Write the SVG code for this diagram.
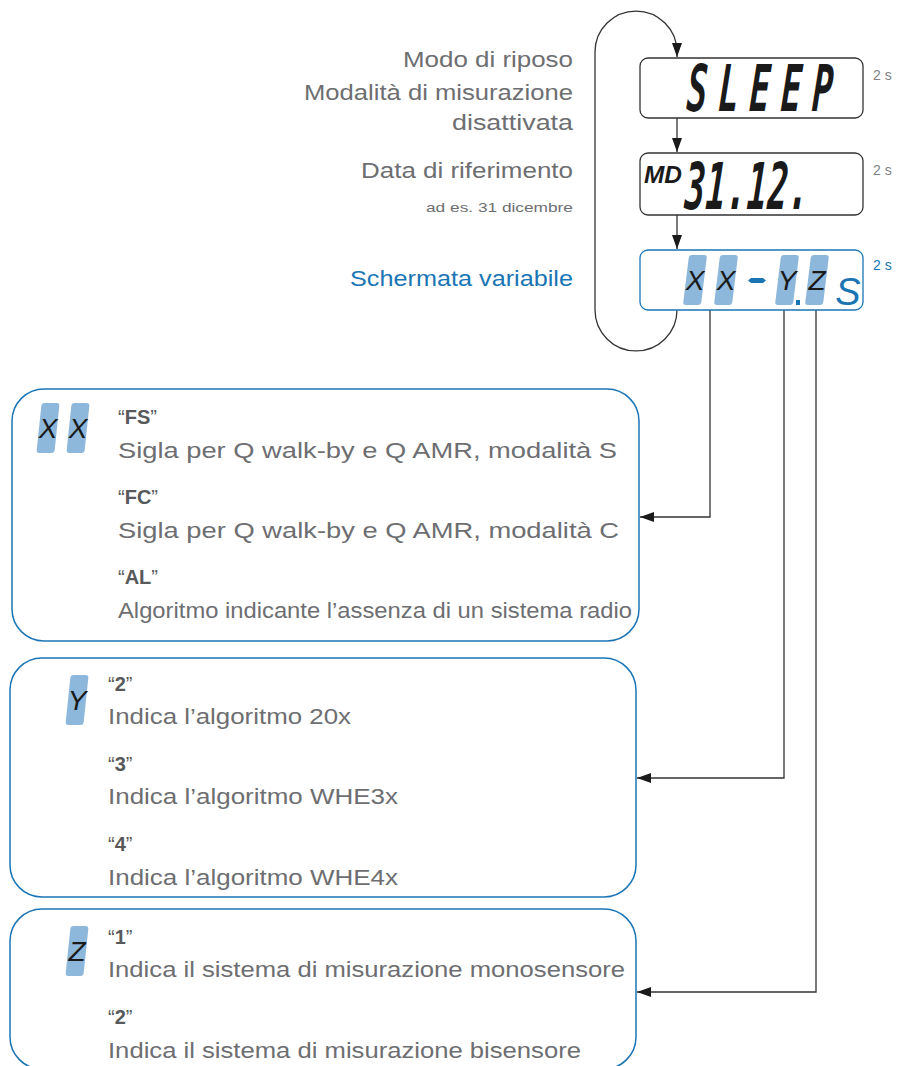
<svg xmlns="http://www.w3.org/2000/svg" width="899" height="1066" viewBox="0 0 899 1066">
<style>
.t{font-family:"Liberation Sans",Arial,sans-serif;font-size:22px;fill:#6d6e71}
.r{text-anchor:end}
.q{font-family:"Liberation Sans",Arial,sans-serif;font-size:20px;fill:#58595b}
.q tspan.b{font-weight:bold}
.s2{font-family:"Liberation Sans",Arial,sans-serif;font-size:14px;fill:#808285}
.lcd{fill:#fff;stroke:#333;stroke-width:1.3}
.lcdb{fill:#fff;stroke:#1a75b5;stroke-width:1.3}
.seg{fill:#8db8dc}
.sl{font-family:"Liberation Sans",Arial,sans-serif;font-style:italic;font-size:28px;fill:#1a1a1a;text-anchor:middle}
.box{fill:#fff;stroke:#1a75b5;stroke-width:1.5}
.con{fill:none;stroke:#333;stroke-width:1.3}
.lcdt{font-family:"DejaVu Sans Mono",monospace;font-style:italic;font-weight:bold;fill:#1a1a1a}
</style>
<defs>
<marker id="ah" markerUnits="userSpaceOnUse" markerWidth="15" markerHeight="11" refX="14" refY="5" orient="auto">
<path d="M0,0 L14,5 L0,10 z" fill="#1a1a1a"/>
</marker>
<rect id="sg" x="-9" y="-25" width="18" height="50" rx="3" class="seg"/>
</defs>

<g id="labels">
<text class="t r" x="573" y="67" textLength="170" lengthAdjust="spacingAndGlyphs">Modo di riposo</text>
<text class="t r" x="573" y="100" textLength="269" lengthAdjust="spacingAndGlyphs">Modalità di misurazione</text>
<text class="t r" x="573" y="130" textLength="121" lengthAdjust="spacingAndGlyphs">disattivata</text>
<text class="t r" x="573" y="178" textLength="212" lengthAdjust="spacingAndGlyphs">Data di riferimento</text>
<text class="t r" x="573" y="212" style="font-size:13px" textLength="147" lengthAdjust="spacingAndGlyphs">ad es. 31 dicembre</text>
<text class="t r" x="573" y="286" style="fill:#1a75b5" textLength="223" lengthAdjust="spacingAndGlyphs">Schermata variabile</text>
</g>

<g id="connectors">
<path class="con" d="M677,310 A41,41 0 0 1 595,310 L595,52 A41,41 0 0 1 677,52 L677,57" marker-end="url(#ah)"/>
<path class="con" d="M677,118 L677,152" marker-end="url(#ah)"/>
<path class="con" d="M677,215 L677,249" marker-end="url(#ah)"/>
<path class="con" d="M710,310 L710,517 L640,517" marker-end="url(#ah)"/>
<path class="con" d="M784,310 L784,778 L637,778" marker-end="url(#ah)"/>
<path class="con" d="M816,310 L816,992 L637,992" marker-end="url(#ah)"/>
</g>

<g id="sleep">
<rect class="lcd" x="640" y="58" width="223" height="60" rx="8"/>
<text class="lcdt" transform="translate(686,111) scale(1,1.9) skewX(-6)" style="font-size:34px" textLength="146" lengthAdjust="spacing">SLEEP</text>
<text class="s2" x="873" y="80">2 s</text>
</g>

<g id="date">
<rect class="lcd" x="640" y="153" width="223" height="62" rx="8"/>
<text class="lcdt" x="644" y="183" style="font-size:24px;font-family:'Liberation Sans',Arial,sans-serif" textLength="38" lengthAdjust="spacingAndGlyphs">MD</text>
<text class="lcdt" transform="translate(684,209) scale(1,1.9) skewX(-6)" style="font-size:34px" textLength="124" lengthAdjust="spacing">31.12.</text>
<text class="s2" x="873" y="175">2 s</text>
</g>

<g id="variable">
<rect class="lcdb" x="640" y="250" width="223" height="60" rx="8"/>
<use href="#sg" transform="translate(695,280) skewX(-7)"/>
<use href="#sg" transform="translate(726,280) skewX(-7)"/>
<use href="#sg" transform="translate(787,280) skewX(-7)"/>
<use href="#sg" transform="translate(817,280) skewX(-7)"/>
<text class="sl" x="695" y="290">X</text>
<text class="sl" x="726" y="290">X</text>
<text class="sl" x="787" y="290">Y</text>
<text class="sl" x="817" y="290">Z</text>
<polygon points="748,280.5 751,278 763,278 766,280.5 763,283 751,283" fill="#1a75b5"/>
<rect x="796" y="300" width="4" height="5" fill="#1a75b5"/>
<text x="848" y="305" style="font-family:'Liberation Sans',Arial,sans-serif;font-style:italic;font-size:38px;fill:#1a75b5;text-anchor:middle">S</text>
<text class="s2" x="873" y="270" style="fill:#1a75b5">2 s</text>
</g>

<g id="box-xx">
<rect class="box" x="12" y="389" width="627" height="252" rx="32"/>
<use href="#sg" transform="translate(48,428) skewX(-6)"/>
<use href="#sg" transform="translate(78,428) skewX(-6)"/>
<text class="sl" x="48" y="438">X</text>
<text class="sl" x="78" y="438">X</text>
<text class="q" x="118" y="424">“<tspan class="b">FS</tspan>”</text>
<text class="t" x="118" y="458" textLength="499" lengthAdjust="spacingAndGlyphs">Sigla per Q walk-by e Q AMR, modalità S</text>
<text class="q" x="118" y="504">“<tspan class="b">FC</tspan>”</text>
<text class="t" x="118" y="538" textLength="501" lengthAdjust="spacingAndGlyphs">Sigla per Q walk-by e Q AMR, modalità C</text>
<text class="q" x="118" y="584">“<tspan class="b">AL</tspan>”</text>
<text class="t" x="118" y="618" textLength="514" lengthAdjust="spacingAndGlyphs">Algoritmo indicante l’assenza di un sistema radio</text>
</g>

<g id="box-y">
<rect class="box" x="10" y="658" width="626" height="239" rx="32"/>
<use href="#sg" transform="translate(77,700) skewX(-6)"/>
<text class="sl" x="77" y="710">Y</text>
<text class="q" x="108" y="691">“<tspan class="b">2</tspan>”</text>
<text class="t" x="108" y="724" textLength="243" lengthAdjust="spacingAndGlyphs">Indica l’algoritmo 20x</text>
<text class="q" x="108" y="771">“<tspan class="b">3</tspan>”</text>
<text class="t" x="108" y="804" textLength="290" lengthAdjust="spacingAndGlyphs">Indica l’algoritmo WHE3x</text>
<text class="q" x="108" y="851">“<tspan class="b">4</tspan>”</text>
<text class="t" x="108" y="885" textLength="290" lengthAdjust="spacingAndGlyphs">Indica l’algoritmo WHE4x</text>
</g>

<g id="box-z">
<rect class="box" x="10" y="909" width="626" height="160" rx="32"/>
<use href="#sg" transform="translate(77,951) skewX(-6)"/>
<text class="sl" x="77" y="961">Z</text>
<text class="q" x="108" y="944">“<tspan class="b">1</tspan>”</text>
<text class="t" x="108" y="977" textLength="517" lengthAdjust="spacingAndGlyphs">Indica il sistema di misurazione monosensore</text>
<text class="q" x="108" y="1024">“<tspan class="b">2</tspan>”</text>
<text class="t" x="108" y="1058" textLength="473" lengthAdjust="spacingAndGlyphs">Indica il sistema di misurazione bisensore</text>
</g>
</svg>
